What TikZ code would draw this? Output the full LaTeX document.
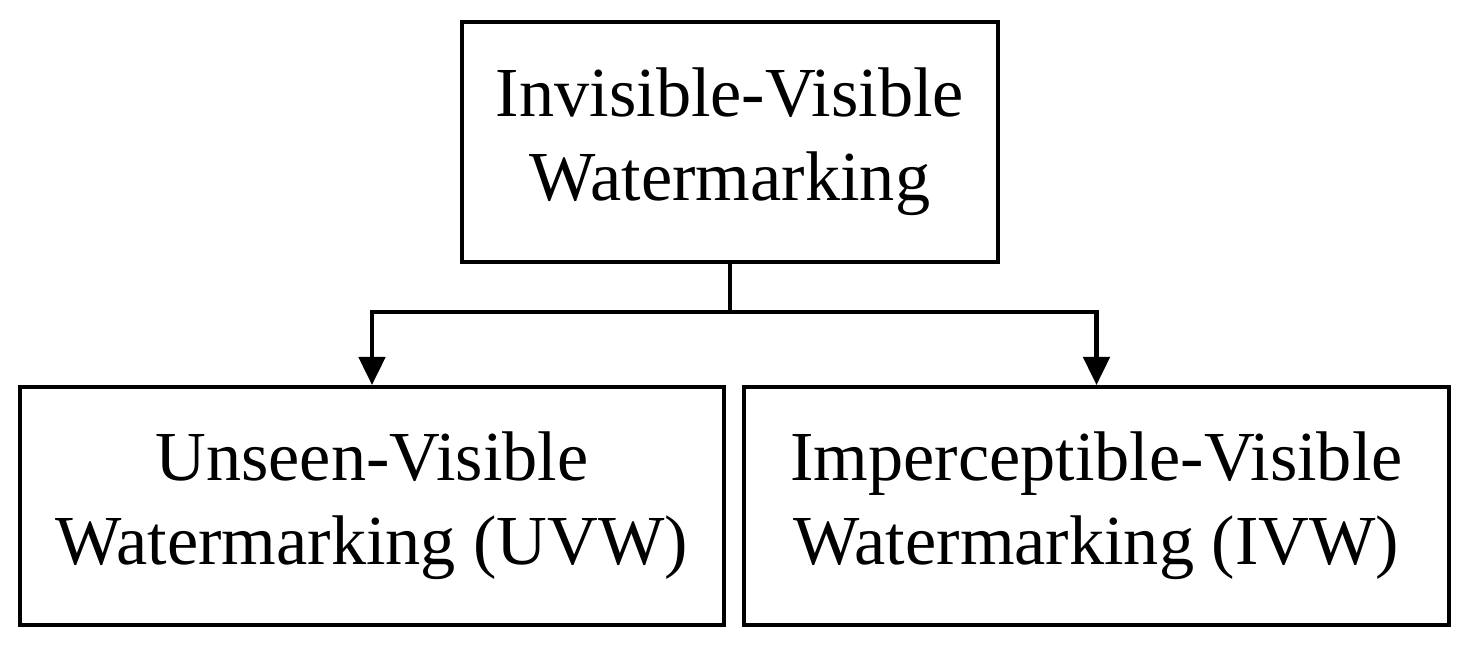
\documentclass[tikz,border=0pt]{standalone}
\usepackage{fontspec}
\setmainfont{Liberation Serif}
\usetikzlibrary{arrows.meta}
\begin{document}
\begin{tikzpicture}[x=0.02cm,y=-0.02cm,
  box/.style={draw,line width=2.3pt,align=center,inner sep=0pt,font=\fontsize{40}{48}\selectfont},
  conn/.style={line width=2.3pt,-{Triangle[length=16pt,width=15pt]}}]
\useasboundingbox (0,0) rectangle (1473,654);
\node[box,minimum width=536*0.02cm,minimum height=240*0.02cm] (top) at (730,142) {Invisible-Visible\\Watermarking};
\node[box,minimum width=704*0.02cm,minimum height=238*0.02cm] (uvw) at (372,506) {Unseen-Visible\\Watermarking (UVW)};
\node[box,minimum width=705*0.02cm,minimum height=238*0.02cm] (ivw) at (1096.5,506) {Imperceptible-Visible\\Watermarking (IVW)};
\coordinate (j) at (730,312);
\draw[line width=2.3pt] (top.south) -- (j);
\draw[conn] (j) -| (uvw.north);
\draw[conn] (j) -| (ivw.north);
\end{tikzpicture}
\end{document}
